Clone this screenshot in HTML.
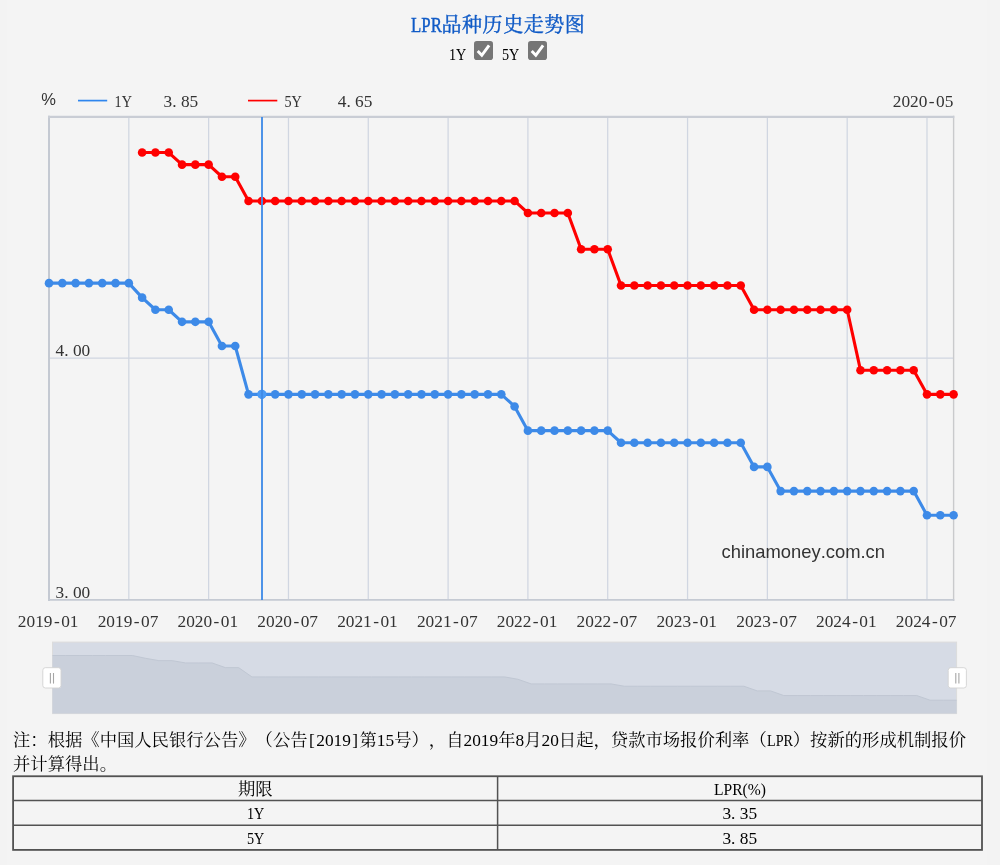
<!DOCTYPE html>
<html lang="zh-CN">
<head>
<meta charset="utf-8">
<title>LPR品种历史走势图</title>
<style>
html,body{margin:0;padding:0}
body{width:1000px;height:865px;background:#f3f3f3;position:relative;overflow:hidden;font-family:"Liberation Serif","Noto Serif CJK SC",serif;font-size:17.33px;color:#000;text-spacing-trim:space-all;font-kerning:none}
#wrap{position:absolute;left:7px;top:0;width:980px;height:865px;background:#f4f4f4}
#title{position:absolute;left:13px;top:9.6px;width:970px;text-align:center;font-size:20px;letter-spacing:.57px;line-height:30px;font-weight:normal;color:#0f5ac6;-webkit-text-stroke:0.4px #0f5ac6;white-space:nowrap}
.hw{display:inline-block;transform-origin:0 50%;white-space:nowrap;text-align:left}
#checks{position:absolute;left:0;top:0}
.lab{position:absolute;top:43.6px;line-height:22px;white-space:nowrap}
.cb{position:absolute;top:41px;width:18.8px;height:18.8px;border-radius:2.8px;background:#767676}
.cb svg{position:absolute;left:0;top:0}
#note{position:absolute;left:13px;top:729px;width:975px;line-height:23.6px;white-space:nowrap}
.p{display:inline-block;width:.5em;text-align:left}
.b{display:inline-block;width:.5em;text-align:center}
table{position:absolute;left:13.1px;top:776.25px;width:968.9px;border-collapse:separate;border-spacing:0;table-layout:fixed}
td{border:0;height:24.55px;padding:0;text-align:center;line-height:24.55px;white-space:nowrap}
td span.c{position:relative;top:2px}
td span.l{position:relative;top:1.3px}
#grid{position:absolute;left:0;top:770px}
</style>
</head>
<body>
<div id="wrap"></div>
<div id="title"><span class="hw" style="letter-spacing:0;width:30.85px;transform:scaleX(0.8411)">LPR</span>品种历史走势图</div>
<div class="lab" style="left:449px"><span class="hw" style="width:1.0em;transform:scaleX(0.8182)">1Y</span></div>
<div class="cb" style="left:474.2px"><svg width="18.8" height="18.8" viewBox="0 0 18.8 18.8"><path d="M3.7 10.1 L7.8 14.3 L15.1 4.3" fill="none" stroke="#fff" stroke-width="2.9" stroke-linecap="butt" stroke-linejoin="miter"/></svg></div>
<div class="lab" style="left:502px"><span class="hw" style="width:1.0em;transform:scaleX(0.8182)">5Y</span></div>
<div class="cb" style="left:528px"><svg width="18.8" height="18.8" viewBox="0 0 18.8 18.8"><path d="M3.7 10.1 L7.8 14.3 L15.1 4.3" fill="none" stroke="#fff" stroke-width="2.9" stroke-linecap="butt" stroke-linejoin="miter"/></svg></div>
<svg width="1000" height="730" viewBox="0 0 1000 730" style="position:absolute;left:0;top:0" font-family='"Liberation Serif","Noto Serif CJK SC",serif' font-size="17.33"><line x1="128.82" y1="116.9" x2="128.82" y2="599.9" stroke="#d0d6e1" stroke-width="1.25"/><line x1="208.64" y1="116.9" x2="208.64" y2="599.9" stroke="#d0d6e1" stroke-width="1.25"/><line x1="288.45" y1="116.9" x2="288.45" y2="599.9" stroke="#d0d6e1" stroke-width="1.25"/><line x1="368.27" y1="116.9" x2="368.27" y2="599.9" stroke="#d0d6e1" stroke-width="1.25"/><line x1="448.09" y1="116.9" x2="448.09" y2="599.9" stroke="#d0d6e1" stroke-width="1.25"/><line x1="527.91" y1="116.9" x2="527.91" y2="599.9" stroke="#d0d6e1" stroke-width="1.25"/><line x1="607.72" y1="116.9" x2="607.72" y2="599.9" stroke="#d0d6e1" stroke-width="1.25"/><line x1="687.54" y1="116.9" x2="687.54" y2="599.9" stroke="#d0d6e1" stroke-width="1.25"/><line x1="767.36" y1="116.9" x2="767.36" y2="599.9" stroke="#d0d6e1" stroke-width="1.25"/><line x1="847.18" y1="116.9" x2="847.18" y2="599.9" stroke="#d0d6e1" stroke-width="1.25"/><line x1="926.99" y1="116.9" x2="926.99" y2="599.9" stroke="#d0d6e1" stroke-width="1.25"/><line x1="49.0" y1="358.10" x2="953.6" y2="358.10" stroke="#d0d6e1" stroke-width="1.1"/><line x1="953.6" y1="115.7" x2="953.6" y2="600.9" stroke="#c9cacc" stroke-width="1.4"/><line x1="49.0" y1="115.7" x2="49.0" y2="600.9" stroke="#c4c9d2" stroke-width="2"/><line x1="48.0" y1="116.9" x2="954.3000000000001" y2="116.9" stroke="#c9cdd5" stroke-width="2.4"/><line x1="48.0" y1="599.9" x2="954.3000000000001" y2="599.9" stroke="#c5cad3" stroke-width="1.9"/><text x="721.5" y="558.2" font-family='"Liberation Sans","Noto Sans CJK SC",sans-serif' font-size="18.4" fill="#333" textLength="163.5" lengthAdjust="spacingAndGlyphs">chinamoney.com.cn</text><text transform="translate(55.60 355.7) scale(0.9763 1)" font-size="17.75" fill="#333">4.<tspan dx="4.44">00</tspan></text><text transform="translate(55.60 598.0) scale(0.9763 1)" font-size="17.75" fill="#333">3.<tspan dx="4.44">00</tspan></text><text transform="translate(17.87 627.0) scale(0.9763 1)" font-size="17.75" fill="#333">2019<tspan dx="1.48">-</tspan><tspan dx="1.48">01</tspan></text><text transform="translate(97.69 627.0) scale(0.9763 1)" font-size="17.75" fill="#333">2019<tspan dx="1.48">-</tspan><tspan dx="1.48">07</tspan></text><text transform="translate(177.51 627.0) scale(0.9763 1)" font-size="17.75" fill="#333">2020<tspan dx="1.48">-</tspan><tspan dx="1.48">01</tspan></text><text transform="translate(257.33 627.0) scale(0.9763 1)" font-size="17.75" fill="#333">2020<tspan dx="1.48">-</tspan><tspan dx="1.48">07</tspan></text><text transform="translate(337.14 627.0) scale(0.9763 1)" font-size="17.75" fill="#333">2021<tspan dx="1.48">-</tspan><tspan dx="1.48">01</tspan></text><text transform="translate(416.96 627.0) scale(0.9763 1)" font-size="17.75" fill="#333">2021<tspan dx="1.48">-</tspan><tspan dx="1.48">07</tspan></text><text transform="translate(496.78 627.0) scale(0.9763 1)" font-size="17.75" fill="#333">2022<tspan dx="1.48">-</tspan><tspan dx="1.48">01</tspan></text><text transform="translate(576.60 627.0) scale(0.9763 1)" font-size="17.75" fill="#333">2022<tspan dx="1.48">-</tspan><tspan dx="1.48">07</tspan></text><text transform="translate(656.41 627.0) scale(0.9763 1)" font-size="17.75" fill="#333">2023<tspan dx="1.48">-</tspan><tspan dx="1.48">01</tspan></text><text transform="translate(736.23 627.0) scale(0.9763 1)" font-size="17.75" fill="#333">2023<tspan dx="1.48">-</tspan><tspan dx="1.48">07</tspan></text><text transform="translate(816.05 627.0) scale(0.9763 1)" font-size="17.75" fill="#333">2024<tspan dx="1.48">-</tspan><tspan dx="1.48">01</tspan></text><text transform="translate(895.87 627.0) scale(0.9763 1)" font-size="17.75" fill="#333">2024<tspan dx="1.48">-</tspan><tspan dx="1.48">07</tspan></text><polyline points="49.00,283.14 62.30,283.14 75.61,283.14 88.91,283.14 102.21,283.14 115.51,283.14 128.82,283.14 142.12,297.65 155.42,309.74 168.73,309.74 182.03,321.83 195.33,321.83 208.64,321.83 221.94,346.01 235.24,346.01 248.54,394.37 261.85,394.37 275.15,394.37 288.45,394.37 301.76,394.37 315.06,394.37 328.36,394.37 341.66,394.37 354.97,394.37 368.27,394.37 381.57,394.37 394.88,394.37 408.18,394.37 421.48,394.37 434.79,394.37 448.09,394.37 461.39,394.37 474.69,394.37 488.00,394.37 501.30,394.37 514.60,406.46 527.91,430.64 541.21,430.64 554.51,430.64 567.81,430.64 581.12,430.64 594.42,430.64 607.72,430.64 621.03,442.73 634.33,442.73 647.63,442.73 660.94,442.73 674.24,442.73 687.54,442.73 700.84,442.73 714.15,442.73 727.45,442.73 740.75,442.73 754.06,466.91 767.36,466.91 780.66,491.09 793.96,491.09 807.27,491.09 820.57,491.09 833.87,491.09 847.18,491.09 860.48,491.09 873.78,491.09 887.09,491.09 900.39,491.09 913.69,491.09 926.99,515.27 940.30,515.27 953.60,515.27" fill="none" stroke="#3d8ae8" stroke-width="3.1" stroke-linejoin="round" stroke-linecap="round"/><g fill="#3d8ae8"><circle cx="49.00" cy="283.14" r="4.3"/><circle cx="62.30" cy="283.14" r="4.3"/><circle cx="75.61" cy="283.14" r="4.3"/><circle cx="88.91" cy="283.14" r="4.3"/><circle cx="102.21" cy="283.14" r="4.3"/><circle cx="115.51" cy="283.14" r="4.3"/><circle cx="128.82" cy="283.14" r="4.3"/><circle cx="142.12" cy="297.65" r="4.3"/><circle cx="155.42" cy="309.74" r="4.3"/><circle cx="168.73" cy="309.74" r="4.3"/><circle cx="182.03" cy="321.83" r="4.3"/><circle cx="195.33" cy="321.83" r="4.3"/><circle cx="208.64" cy="321.83" r="4.3"/><circle cx="221.94" cy="346.01" r="4.3"/><circle cx="235.24" cy="346.01" r="4.3"/><circle cx="248.54" cy="394.37" r="4.3"/><circle cx="261.85" cy="394.37" r="4.3"/><circle cx="275.15" cy="394.37" r="4.3"/><circle cx="288.45" cy="394.37" r="4.3"/><circle cx="301.76" cy="394.37" r="4.3"/><circle cx="315.06" cy="394.37" r="4.3"/><circle cx="328.36" cy="394.37" r="4.3"/><circle cx="341.66" cy="394.37" r="4.3"/><circle cx="354.97" cy="394.37" r="4.3"/><circle cx="368.27" cy="394.37" r="4.3"/><circle cx="381.57" cy="394.37" r="4.3"/><circle cx="394.88" cy="394.37" r="4.3"/><circle cx="408.18" cy="394.37" r="4.3"/><circle cx="421.48" cy="394.37" r="4.3"/><circle cx="434.79" cy="394.37" r="4.3"/><circle cx="448.09" cy="394.37" r="4.3"/><circle cx="461.39" cy="394.37" r="4.3"/><circle cx="474.69" cy="394.37" r="4.3"/><circle cx="488.00" cy="394.37" r="4.3"/><circle cx="501.30" cy="394.37" r="4.3"/><circle cx="514.60" cy="406.46" r="4.3"/><circle cx="527.91" cy="430.64" r="4.3"/><circle cx="541.21" cy="430.64" r="4.3"/><circle cx="554.51" cy="430.64" r="4.3"/><circle cx="567.81" cy="430.64" r="4.3"/><circle cx="581.12" cy="430.64" r="4.3"/><circle cx="594.42" cy="430.64" r="4.3"/><circle cx="607.72" cy="430.64" r="4.3"/><circle cx="621.03" cy="442.73" r="4.3"/><circle cx="634.33" cy="442.73" r="4.3"/><circle cx="647.63" cy="442.73" r="4.3"/><circle cx="660.94" cy="442.73" r="4.3"/><circle cx="674.24" cy="442.73" r="4.3"/><circle cx="687.54" cy="442.73" r="4.3"/><circle cx="700.84" cy="442.73" r="4.3"/><circle cx="714.15" cy="442.73" r="4.3"/><circle cx="727.45" cy="442.73" r="4.3"/><circle cx="740.75" cy="442.73" r="4.3"/><circle cx="754.06" cy="466.91" r="4.3"/><circle cx="767.36" cy="466.91" r="4.3"/><circle cx="780.66" cy="491.09" r="4.3"/><circle cx="793.96" cy="491.09" r="4.3"/><circle cx="807.27" cy="491.09" r="4.3"/><circle cx="820.57" cy="491.09" r="4.3"/><circle cx="833.87" cy="491.09" r="4.3"/><circle cx="847.18" cy="491.09" r="4.3"/><circle cx="860.48" cy="491.09" r="4.3"/><circle cx="873.78" cy="491.09" r="4.3"/><circle cx="887.09" cy="491.09" r="4.3"/><circle cx="900.39" cy="491.09" r="4.3"/><circle cx="913.69" cy="491.09" r="4.3"/><circle cx="926.99" cy="515.27" r="4.3"/><circle cx="940.30" cy="515.27" r="4.3"/><circle cx="953.60" cy="515.27" r="4.3"/></g><polyline points="142.12,152.57 155.42,152.57 168.73,152.57 182.03,164.66 195.33,164.66 208.64,164.66 221.94,176.75 235.24,176.75 248.54,200.93 261.85,200.93 275.15,200.93 288.45,200.93 301.76,200.93 315.06,200.93 328.36,200.93 341.66,200.93 354.97,200.93 368.27,200.93 381.57,200.93 394.88,200.93 408.18,200.93 421.48,200.93 434.79,200.93 448.09,200.93 461.39,200.93 474.69,200.93 488.00,200.93 501.30,200.93 514.60,200.93 527.91,213.02 541.21,213.02 554.51,213.02 567.81,213.02 581.12,249.29 594.42,249.29 607.72,249.29 621.03,285.56 634.33,285.56 647.63,285.56 660.94,285.56 674.24,285.56 687.54,285.56 700.84,285.56 714.15,285.56 727.45,285.56 740.75,285.56 754.06,309.74 767.36,309.74 780.66,309.74 793.96,309.74 807.27,309.74 820.57,309.74 833.87,309.74 847.18,309.74 860.48,370.19 873.78,370.19 887.09,370.19 900.39,370.19 913.69,370.19 926.99,394.37 940.30,394.37 953.60,394.37" fill="none" stroke="#ff0000" stroke-width="3.1" stroke-linejoin="round" stroke-linecap="round"/><g fill="#ff0000"><circle cx="142.12" cy="152.57" r="4.3"/><circle cx="155.42" cy="152.57" r="4.3"/><circle cx="168.73" cy="152.57" r="4.3"/><circle cx="182.03" cy="164.66" r="4.3"/><circle cx="195.33" cy="164.66" r="4.3"/><circle cx="208.64" cy="164.66" r="4.3"/><circle cx="221.94" cy="176.75" r="4.3"/><circle cx="235.24" cy="176.75" r="4.3"/><circle cx="248.54" cy="200.93" r="4.3"/><circle cx="261.85" cy="200.93" r="4.3"/><circle cx="275.15" cy="200.93" r="4.3"/><circle cx="288.45" cy="200.93" r="4.3"/><circle cx="301.76" cy="200.93" r="4.3"/><circle cx="315.06" cy="200.93" r="4.3"/><circle cx="328.36" cy="200.93" r="4.3"/><circle cx="341.66" cy="200.93" r="4.3"/><circle cx="354.97" cy="200.93" r="4.3"/><circle cx="368.27" cy="200.93" r="4.3"/><circle cx="381.57" cy="200.93" r="4.3"/><circle cx="394.88" cy="200.93" r="4.3"/><circle cx="408.18" cy="200.93" r="4.3"/><circle cx="421.48" cy="200.93" r="4.3"/><circle cx="434.79" cy="200.93" r="4.3"/><circle cx="448.09" cy="200.93" r="4.3"/><circle cx="461.39" cy="200.93" r="4.3"/><circle cx="474.69" cy="200.93" r="4.3"/><circle cx="488.00" cy="200.93" r="4.3"/><circle cx="501.30" cy="200.93" r="4.3"/><circle cx="514.60" cy="200.93" r="4.3"/><circle cx="527.91" cy="213.02" r="4.3"/><circle cx="541.21" cy="213.02" r="4.3"/><circle cx="554.51" cy="213.02" r="4.3"/><circle cx="567.81" cy="213.02" r="4.3"/><circle cx="581.12" cy="249.29" r="4.3"/><circle cx="594.42" cy="249.29" r="4.3"/><circle cx="607.72" cy="249.29" r="4.3"/><circle cx="621.03" cy="285.56" r="4.3"/><circle cx="634.33" cy="285.56" r="4.3"/><circle cx="647.63" cy="285.56" r="4.3"/><circle cx="660.94" cy="285.56" r="4.3"/><circle cx="674.24" cy="285.56" r="4.3"/><circle cx="687.54" cy="285.56" r="4.3"/><circle cx="700.84" cy="285.56" r="4.3"/><circle cx="714.15" cy="285.56" r="4.3"/><circle cx="727.45" cy="285.56" r="4.3"/><circle cx="740.75" cy="285.56" r="4.3"/><circle cx="754.06" cy="309.74" r="4.3"/><circle cx="767.36" cy="309.74" r="4.3"/><circle cx="780.66" cy="309.74" r="4.3"/><circle cx="793.96" cy="309.74" r="4.3"/><circle cx="807.27" cy="309.74" r="4.3"/><circle cx="820.57" cy="309.74" r="4.3"/><circle cx="833.87" cy="309.74" r="4.3"/><circle cx="847.18" cy="309.74" r="4.3"/><circle cx="860.48" cy="370.19" r="4.3"/><circle cx="873.78" cy="370.19" r="4.3"/><circle cx="887.09" cy="370.19" r="4.3"/><circle cx="900.39" cy="370.19" r="4.3"/><circle cx="913.69" cy="370.19" r="4.3"/><circle cx="926.99" cy="394.37" r="4.3"/><circle cx="940.30" cy="394.37" r="4.3"/><circle cx="953.60" cy="394.37" r="4.3"/></g><circle cx="261.85" cy="394.37" r="4.6" fill="#4b9bf6"/><line x1="262.00" y1="116.9" x2="262.00" y2="599.9" stroke="#3f8be6" stroke-opacity="0.93" stroke-width="2"/><text x="41.3" y="104.8" font-family='"Liberation Sans","Noto Sans CJK SC",sans-serif' font-size="16.5" fill="#333">%</text><line x1="78" y1="100.6" x2="107.2" y2="100.6" stroke="#2f86ee" stroke-width="1.7"/><text transform="translate(114.60 107) scale(0.7989 1)" font-size="17.75" fill="#333">1Y</text><text transform="translate(163.60 107) scale(0.9763 1)" font-size="17.75" fill="#333">3.<tspan dx="4.44">85</tspan></text><line x1="248" y1="100.6" x2="277.3" y2="100.6" stroke="#ff0000" stroke-width="1.7"/><text transform="translate(284.40 107) scale(0.7989 1)" font-size="17.75" fill="#333">5Y</text><text transform="translate(337.80 107) scale(0.9763 1)" font-size="17.75" fill="#333">4.<tspan dx="4.44">65</tspan></text><text transform="translate(892.77 107) scale(0.9763 1)" font-size="17.75" fill="#333">2020<tspan dx="1.48">-</tspan><tspan dx="1.48">05</tspan></text><rect x="52.5" y="642.1" width="904.10" height="71.50" fill="#d6dbe5" stroke="#dcdcdc" stroke-width="1"/><path d="M52.5,713.6 L52.50,655.51 L65.80,655.51 L79.09,655.51 L92.39,655.51 L105.68,655.51 L118.98,655.51 L132.27,655.51 L145.57,658.30 L158.86,660.63 L172.16,660.63 L185.46,662.95 L198.75,662.95 L212.05,662.95 L225.34,667.61 L238.64,667.61 L251.93,676.92 L265.23,676.92 L278.52,676.92 L291.82,676.92 L305.12,676.92 L318.41,676.92 L331.71,676.92 L345.00,676.92 L358.30,676.92 L371.59,676.92 L384.89,676.92 L398.19,676.92 L411.48,676.92 L424.78,676.92 L438.07,676.92 L451.37,676.92 L464.66,676.92 L477.96,676.92 L491.25,676.92 L504.55,676.92 L517.85,679.25 L531.14,683.90 L544.44,683.90 L557.73,683.90 L571.03,683.90 L584.32,683.90 L597.62,683.90 L610.91,683.90 L624.21,686.23 L637.51,686.23 L650.80,686.23 L664.10,686.23 L677.39,686.23 L690.69,686.23 L703.98,686.23 L717.28,686.23 L730.57,686.23 L743.87,686.23 L757.17,690.88 L770.46,690.88 L783.76,695.54 L797.05,695.54 L810.35,695.54 L823.64,695.54 L836.94,695.54 L850.24,695.54 L863.53,695.54 L876.83,695.54 L890.12,695.54 L903.42,695.54 L916.71,695.54 L930.01,700.19 L943.30,700.19 L956.60,700.19 L956.6,713.6 Z" fill="#cad0db"/><path d="M52.50,655.51 L65.80,655.51 L79.09,655.51 L92.39,655.51 L105.68,655.51 L118.98,655.51 L132.27,655.51 L145.57,658.30 L158.86,660.63 L172.16,660.63 L185.46,662.95 L198.75,662.95 L212.05,662.95 L225.34,667.61 L238.64,667.61 L251.93,676.92 L265.23,676.92 L278.52,676.92 L291.82,676.92 L305.12,676.92 L318.41,676.92 L331.71,676.92 L345.00,676.92 L358.30,676.92 L371.59,676.92 L384.89,676.92 L398.19,676.92 L411.48,676.92 L424.78,676.92 L438.07,676.92 L451.37,676.92 L464.66,676.92 L477.96,676.92 L491.25,676.92 L504.55,676.92 L517.85,679.25 L531.14,683.90 L544.44,683.90 L557.73,683.90 L571.03,683.90 L584.32,683.90 L597.62,683.90 L610.91,683.90 L624.21,686.23 L637.51,686.23 L650.80,686.23 L664.10,686.23 L677.39,686.23 L690.69,686.23 L703.98,686.23 L717.28,686.23 L730.57,686.23 L743.87,686.23 L757.17,690.88 L770.46,690.88 L783.76,695.54 L797.05,695.54 L810.35,695.54 L823.64,695.54 L836.94,695.54 L850.24,695.54 L863.53,695.54 L876.83,695.54 L890.12,695.54 L903.42,695.54 L916.71,695.54 L930.01,700.19 L943.30,700.19 L956.60,700.19" fill="none" stroke="#c0c7d3" stroke-width="1"/><rect x="42.80" y="667.7" width="18.2" height="20.3" rx="2.6" fill="#fff" stroke="#d2d2d2" stroke-width="0.9"/><line x1="50.40" y1="673" x2="50.40" y2="683.6" stroke="#a6a6a6" stroke-width="1.1"/><line x1="53.50" y1="673" x2="53.50" y2="683.6" stroke="#a6a6a6" stroke-width="1.1"/><rect x="948.20" y="667.7" width="18.2" height="20.3" rx="2.6" fill="#fff" stroke="#d2d2d2" stroke-width="0.9"/><line x1="955.80" y1="673" x2="955.80" y2="683.6" stroke="#a6a6a6" stroke-width="1.1"/><line x1="958.90" y1="673" x2="958.90" y2="683.6" stroke="#a6a6a6" stroke-width="1.1"/></svg>
<div id="note">注：根据《中国人民银行公告》（公告<span class="b">[</span>2019<span class="b">]</span>第15号），自2019年8月20日起，贷款市场报价利率（<span class="hw" style="width:1.5em;transform:scaleX(0.8179)">LPR</span>）按新的形成机制报价<br>并计算得出。</div>
<table>
<tr><td><span class="c">期限</span></td><td><span class="l"><span class="hw" style="width:3.0em;transform:scaleX(0.9001)">LPR(%)</span></span></td></tr>
<tr><td><span class="l"><span class="hw" style="width:1.0em;transform:scaleX(0.8182)">1Y</span></span></td><td><span class="l">3<span class="p">.</span>35</span></td></tr>
<tr><td><span class="l"><span class="hw" style="width:1.0em;transform:scaleX(0.8182)">5Y</span></span></td><td><span class="l">3<span class="p">.</span>85</span></td></tr>
</table>
<svg id="grid" width="1000" height="95" viewBox="0 770 1000 95"><g fill="none" stroke="#525252"><rect x="13.1" y="776.25" width="968.9" height="73.65" stroke-width="1.8"/><path d="M13.1 800.55H982M13.1 825.15H982M497.6 776.25V849.9" stroke-width="1.5"/></g></svg>
</body>
</html>
